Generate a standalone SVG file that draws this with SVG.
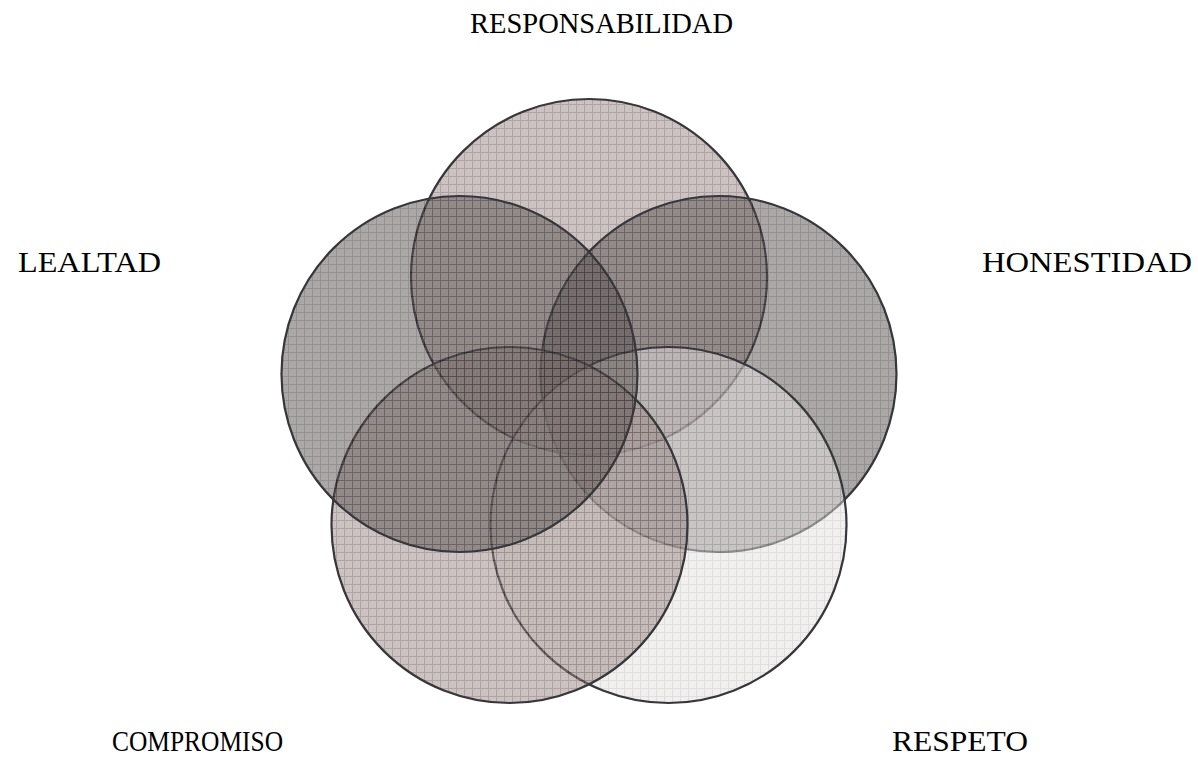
<svg xmlns="http://www.w3.org/2000/svg" width="1198" height="758" viewBox="0 0 1198 758">
  <style>
    .lbl { font-family: "Liberation Serif", "Times New Roman", serif; font-size: 30px; fill: #000; text-anchor: middle; }
    .c { stroke: #36363b; stroke-width: 2.2; fill-opacity: 0.5; }
  </style>
  <defs>
    <pattern id="pTop" patternUnits="userSpaceOnUse" width="8" height="8">
      <rect width="8" height="8" fill="#998886"/>
      <rect x="2" y="2" width="1" height="1" fill="#857372"/>
      <rect x="5" y="5" width="1" height="1" fill="#857372"/>
      <path d="M0 0.5H8M0.5 0V8" stroke="#5d4a4a" stroke-width="1"/>
    </pattern>
    <pattern id="pDark" patternUnits="userSpaceOnUse" width="8" height="8">
      <rect width="8" height="8" fill="#5a5252"/>
      <rect x="2" y="2" width="1" height="1" fill="#474040"/>
      <rect x="5" y="5" width="1" height="1" fill="#474040"/>
      <path d="M0 0.5H8M0.5 0V8" stroke="#2a2424" stroke-width="1"/>
    </pattern>
    <pattern id="pLight" patternUnits="userSpaceOnUse" width="8" height="8">
      <rect width="8" height="8" fill="#e3e1df"/>
      <path d="M0 0.5H8M0.5 0V8" stroke="#c2bebe" stroke-width="1"/>
    </pattern>
  </defs>
  <g id="circle-responsabilidad"><circle class="c" cx="589" cy="277" r="178" fill="url(#pTop)"/></g>
  <g id="circle-honestidad"><circle class="c" cx="718.5" cy="374" r="178" fill="url(#pDark)"/></g>
  <g id="circle-respeto"><circle class="c" cx="668.5" cy="525" r="178" fill="url(#pLight)"/></g>
  <g id="circle-compromiso"><circle class="c" cx="509.5" cy="525" r="178" fill="url(#pTop)"/></g>
  <g id="circle-lealtad"><circle class="c" cx="459.5" cy="374" r="178" fill="url(#pDark)"/></g>
  <g id="connectors"></g>
  <g id="labels">
    <text class="lbl" x="601.5" y="33" textLength="263" lengthAdjust="spacingAndGlyphs">RESPONSABILIDAD</text>
    <text class="lbl" x="89.5" y="272" textLength="143" lengthAdjust="spacingAndGlyphs">LEALTAD</text>
    <text class="lbl" x="1087" y="272" textLength="210" lengthAdjust="spacingAndGlyphs">HONESTIDAD</text>
    <text class="lbl" x="197.5" y="751" textLength="171" lengthAdjust="spacingAndGlyphs">COMPROMISO</text>
    <text class="lbl" x="960" y="751" textLength="136" lengthAdjust="spacingAndGlyphs">RESPETO</text>
  </g>
</svg>
